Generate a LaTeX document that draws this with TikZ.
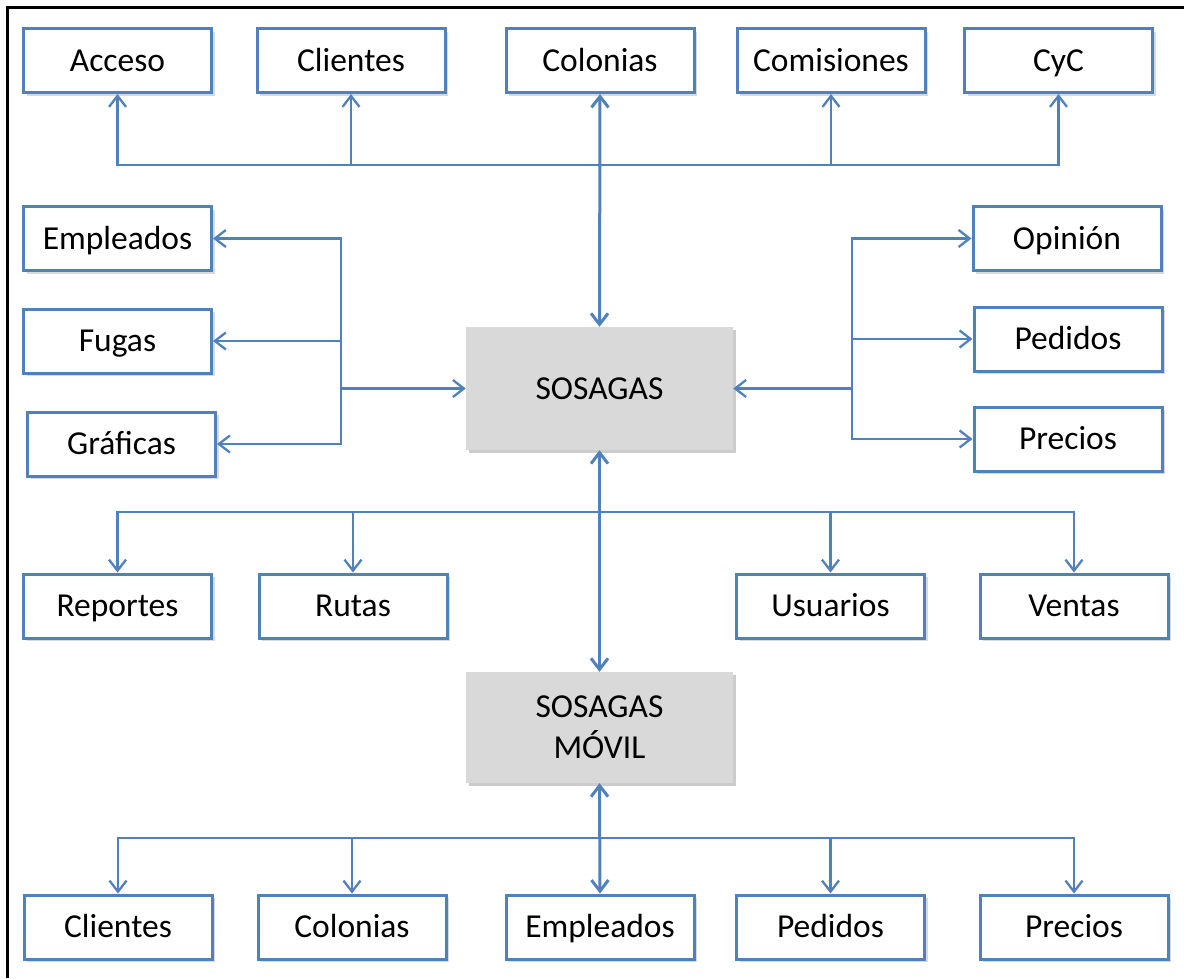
\documentclass[tikz,border=0pt]{standalone}
\usepackage{fontspec}
\setmainfont{Carlito}
\usetikzlibrary{arrows.meta, shadows}
\definecolor{linkblue}{HTML}{4F81BD}
\definecolor{sysgray}{HTML}{D9D9D9}

\begin{document}
\begin{tikzpicture}[
  x = 1pt, y = -1pt,
  module/.style={draw=linkblue, line width=3pt, fill=white, minimum width=188pt, minimum height=64pt, inner sep=0pt, text height=21.5pt, text depth=0pt, font=\fontsize{33.5}{40}\selectfont, drop shadow={shadow xshift=3pt, shadow yshift=-3pt, opacity=0.3}},
  system/.style={fill=sysgray, minimum width=267pt, inner sep=0pt, align=center, font=\fontsize{33.5}{41}\selectfont, drop shadow={shadow xshift=3pt, shadow yshift=-3pt, opacity=0.4}},
  link/.style={draw=linkblue, line width=2.3pt, -{Straight Barb[length=11pt, width=17pt]}},
  twoway/.style={link, line width=3pt, {Straight Barb[length=11pt, width=17pt]}-{Straight Barb[length=11pt, width=17pt]}},
  frame/.style={line width=3pt, black}
]
\useasboundingbox (0,0) rectangle (1184,978);

%frame
\draw[frame] (7,978) -- (7,7) -- (1184,7);

%systems
\node[system, minimum height=123pt, text height=21.5pt, text depth=0pt] (sosagas) at (599.5,388.5) {SOSAGAS};
\node[system, minimum height=111pt] (movil) at (599.5,727.5) {SOSAGAS\\MÓVIL};

%top row
\node[module] (acceso)     at (117.5,60.5)  {Acceso};
\node[module] (clientes)   at (351,60.5)    {Clientes};
\node[module] (colonias)   at (600,60.5)    {Colonias};
\node[module] (comisiones) at (831,60.5)    {Comisiones};
\node[module] (cyc)        at (1058.5,60.5) {CyC};

%left column
\node[module] (empleados) at (117.5,238.5) {Empleados};
\node[module] (fugas)     at (117.5,341)   {Fugas};
\node[module] (graficas)  at (121.5,444)   {Gráficas};

%right column
\node[module] (opinion) at (1067,238.5) {Opinión};
\node[module] (pedidos) at (1068,339)   {Pedidos};
\node[module] (precios) at (1068,439)   {Precios};

%middle row
\node[module] (reportes) at (117.5,606) {Reportes};
\node[module] (rutas)    at (353,606)   {Rutas};
\node[module] (usuarios) at (830.5,606) {Usuarios};
\node[module] (ventas)   at (1074,606)  {Ventas};

%bottom row
\node[module] (mclientes)  at (118,927)   {Clientes};
\node[module] (mcolonias)  at (352,927)   {Colonias};
\node[module] (mempleados) at (600,927)   {Empleados};
\node[module] (mpedidos)   at (830.5,927) {Pedidos};
\node[module] (mprecios)   at (1074,927)  {Precios};

%buses
\coordinate (topbus) at (599.5,165);
\coordinate (leftbus) at (341,388.5);
\coordinate (rightbus) at (852,388.5);
\coordinate (midbus) at (599.5,512);
\coordinate (botbus) at (599.5,838);

%sosagas ==> top
\draw[twoway] (sosagas.north) -- (colonias.south);
\foreach \n in {acceso, clientes, comisiones, cyc}
  \draw[link] (topbus) -| (\n.south);

%sosagas ==> sides
\draw[link] (leftbus) -- (sosagas.west);
\foreach \n in {empleados, fugas, graficas}
  \draw[link] (leftbus) |- (\n.east);
\draw[link] (rightbus) -- (sosagas.east);
\foreach \n in {opinion, pedidos, precios}
  \draw[link] (rightbus) |- (\n.west);

%sosagas ==> middle
\draw[twoway] (sosagas.south) -- (movil.north);
\foreach \n in {reportes, rutas, usuarios, ventas}
  \draw[link] (midbus) -| (\n.north);

%movil ==> bottom
\draw[twoway] (movil.south) -- (mempleados.north);
\foreach \n in {mclientes, mcolonias, mpedidos, mprecios}
  \draw[link] (botbus) -| (\n.north);

\end{tikzpicture}
\end{document}
